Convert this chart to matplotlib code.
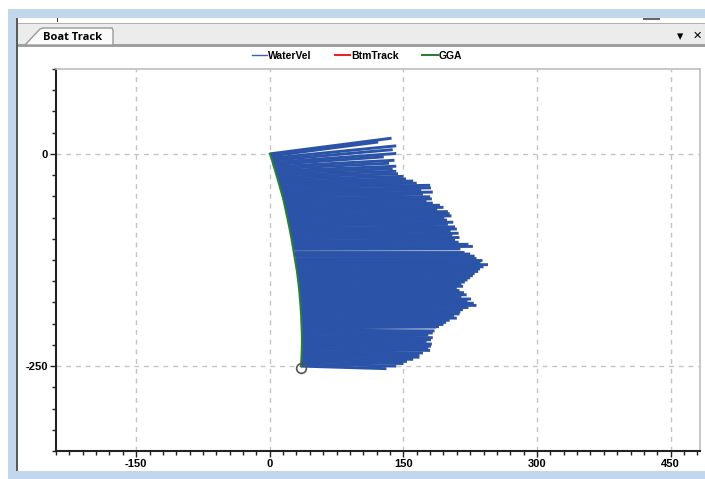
import matplotlib
matplotlib.use('Agg')
import matplotlib.pyplot as plt
from matplotlib.patches import Rectangle, Polygon
from matplotlib.lines import Line2D
from matplotlib.ticker import MultipleLocator

plt.rcParams['font.family'] = ['Liberation Sans', 'DejaVu Sans']
plt.rcParams['axes.unicode_minus'] = False

# boat track (GGA) positions, one per ensemble
track_y = [0, -2.5, -5, -7.5, -10, -12.5, -15, -17.5, -20, -22.5,
           -25, -27.5, -30, -32.5, -35, -37.5, -40, -42.5, -45, -47.5,
           -50, -52.5, -55, -57.5, -60, -62.5, -65, -67.5, -70, -72.5,
           -75, -77.5, -80, -82.5, -85, -87.5, -90, -92.5, -95, -97.5,
           -100, -102.5, -105, -107.5, -110, -112.5, -115, -117.5, -120, -122.5,
           -125, -127.5, -130, -132.5, -135, -137.5, -140, -142.5, -145, -147.5,
           -150, -152.5, -155, -157.5, -160, -162.5, -165, -167.5, -170, -172.5,
           -175, -177.5, -180, -182.5, -185, -187.5, -190, -192.5, -195, -197.5,
           -200, -202.5, -205, -207.5, -210, -212.5, -215, -217.5, -220, -222.5,
           -225, -227.5, -230, -232.5, -235, -237.5, -240, -242.5, -245, -247.5,
           -250]
track_x = [0, 1.0, 1.9, 2.6, 3.2, 3.8, 4.6, 5.4, 6.1, 6.8,
           7.5, 8.2, 8.9, 9.6, 10.3, 11.0, 11.6, 12.3, 13.0, 13.6,
           14.3, 14.9, 15.5, 16.0, 16.6, 17.1, 17.6, 18.1, 18.6, 19.1,
           19.6, 20.1, 20.6, 21.1, 21.6, 22.1, 22.6, 23.0, 23.5, 23.9,
           24.4, 24.8, 25.2, 25.6, 26.0, 26.4, 26.8, 27.2, 27.6, 28.0,
           28.4, 28.8, 29.2, 29.6, 30.0, 30.4, 30.7, 31.0, 31.3, 31.6,
           31.9, 32.2, 32.5, 32.7, 33.0, 33.2, 33.4, 33.6, 33.8, 34.0,
           34.2, 34.4, 34.6, 34.7, 34.9, 35.0, 35.2, 35.3, 35.4, 35.5,
           35.6, 35.7, 35.8, 35.9, 36.0, 36.0, 36.1, 36.1, 36.1, 36.1,
           36.1, 36.0, 36.0, 35.9, 35.8, 35.7, 35.6, 35.5, 35.3, 35.1,
           34.9]

# water velocity vector tips (x) and their vertical offset from the track
tip_x = [136.7, 121.7, 142, 138, 142, 128, 140, 134, 142, 138,
         142, 144, 150, 153, 161, 165, 180, 181, 170, 183,
         172, 180, 182, 176, 183, 191, 195, 188, 200, 202,
         204, 196, 199, 206, 200, 208, 210, 203, 212, 205,
         213, 208, 212, 223, 228, 214, 218, 225, 230, 232,
         238, 236, 245, 240, 236, 234, 230, 228, 225, 222,
         219, 215, 217, 210, 213, 218, 221, 215, 226, 222,
         229, 232, 223, 217, 214, 213, 207, 210, 202, 198,
         195, 190, 187, 185, 183, 178, 183, 181, 176, 182,
         181, 178, 180, 172, 168, 168, 161, 154, 150, 142,
         131]
tip_dy = [18.5, 16.5, 14.5, 12.5, 10.5, 9, 7.5, 6.5, 5.5, 5,
          4.5, 4, 3.5, 3, 3, 3, 3, 2.5, 2.5, 2.5,
          2.5, 2, 2, 2, 2, 2, 2, 2, 2, 2,
          2, 2, 2, 2, 2, 1.5, 1.5, 1.5, 1.5, 1.5,
          1.5, 1, 1, 1, 1, 0.5, 0, -0.5, -0.5, 0,
          0, 0, -0.5, -0.5, -0.5, -1, -1, -1, -1, -1,
          -1, -1, -1, -1, -1, -1, -1, -1, -1, -1,
          -1, -1, -1, -1, -1, -1, -1, -1, -1, -1,
          -1, -1, 1, -1, -1, -1, -1.5, -1.5, -1.5, -1.5,
          -1.5, -1.5, -1.5, -2, -2, -2, -2, -2, -2, -2.5,
          -3]

W, H = 705, 479
fig = plt.figure(figsize=(W / 100, H / 100), dpi=100)
fig.patch.set_facecolor('white')


def rect(x0, y0, x1, y1, **kw):
    # rectangle in pixel coords measured from the top-left corner
    fig.patches.append(Rectangle((x0 / W, 1 - y1 / H), (x1 - x0) / W, (y1 - y0) / H,
                                 transform=fig.transFigure, zorder=-5, **kw))


# window chrome
rect(8, 9, 705, 479, facecolor='#c2d7eb', edgecolor='none')
rect(17, 18, 705, 471, facecolor='white', edgecolor='none')
rect(16, 18, 18, 471, facecolor='#5a5a5a', edgecolor='none')
rect(18, 23, 705, 45, facecolor='#ececec', edgecolor='none')
rect(18, 23, 705, 24, facecolor='#b0b0b0', edgecolor='none')
rect(18, 44, 705, 47, facecolor='#a0a0a0', edgecolor='none')
rect(57, 18, 58, 22, facecolor='#333333', edgecolor='none')
rect(643, 18, 660, 20, facecolor='#666666', edgecolor='none')
tab = [(25, 45), (40, 29), (43, 28), (112, 28), (113, 30), (113, 45)]
fig.patches.append(Polygon([(x / W, 1 - y / H) for x, y in tab], closed=True,
                           transform=fig.transFigure, facecolor='#fafafa',
                           edgecolor='#9a9a9a', lw=1, zorder=-4))
fig.text(43 / W, 1 - 37 / H, 'Boat Track', family='Open Sans', weight='bold',
         fontsize=8, va='center', ha='left')
fig.text(680 / W, 1 - 37 / H, '\u25be', family='DejaVu Sans', fontsize=9,
         va='center', ha='center')
fig.text(697 / W, 1 - 36 / H, '\u2715', family='DejaVu Sans', fontsize=8,
         va='center', ha='center')

ax = fig.add_axes([56 / W, 28 / H, 644 / W, 382 / H])
ax.set_facecolor('white')

for x0, y0, x1, dy in zip(track_x, track_y, tip_x, tip_dy):
    ax.plot([x0, x1], [y0, y0 + dy], color='#2b53a7', lw=2.1, solid_capstyle='butt', zorder=2)

ax.plot(track_x, track_y, color='#2e7d32', lw=1.5, zorder=3)
ax.plot(track_x[-1], track_y[-1] - 2, 'o', ms=7, mfc='none', mec='#555555', mew=1.2, zorder=4)

ax.set_xlim(-240, 483)
ax.set_ylim(-350, 100)
ax.set_xticks([-150, 0, 150, 300, 450])
ax.set_yticks([-250, 0])
ax.xaxis.set_minor_locator(MultipleLocator(15))
ax.yaxis.set_minor_locator(MultipleLocator(25))
ax.grid(True, which='major', color='#c4c4c4', linestyle=(0, (3.5, 3.5)), lw=1)
ax.set_axisbelow(True)

for s in ['left', 'bottom']:
    ax.spines[s].set_color('#222222')
    ax.spines[s].set_linewidth(1.5)
for s in ['top', 'right']:
    ax.spines[s].set_color('#bdbdbd')
    ax.spines[s].set_linewidth(1.2)

ax.tick_params(which='major', direction='out', length=4, width=1, color='#222222',
               labelsize=8, pad=2)
ax.tick_params(which='minor', direction='out', length=3, width=1, color='#222222')
for lab in ax.get_xticklabels() + ax.get_yticklabels():
    lab.set_fontweight('bold')

handles = [Line2D([], [], color='#3b5fb5', lw=1),
           Line2D([], [], color='#e8232a', lw=1.5),
           Line2D([], [], color='#2e7d32', lw=1.5)]
leg = fig.legend(handles, ['WaterVel', 'BtmTrack', 'GGA'], loc='center',
                 bbox_to_anchor=(357 / W, 1 - 56 / H), ncol=3, frameon=False,
                 fontsize=7.5, handlelength=1.5, handletextpad=0.1, columnspacing=2.2)
for t in leg.get_texts():
    t.set_fontweight('bold')

fig.savefig('out.png', dpi=100, facecolor='white')
